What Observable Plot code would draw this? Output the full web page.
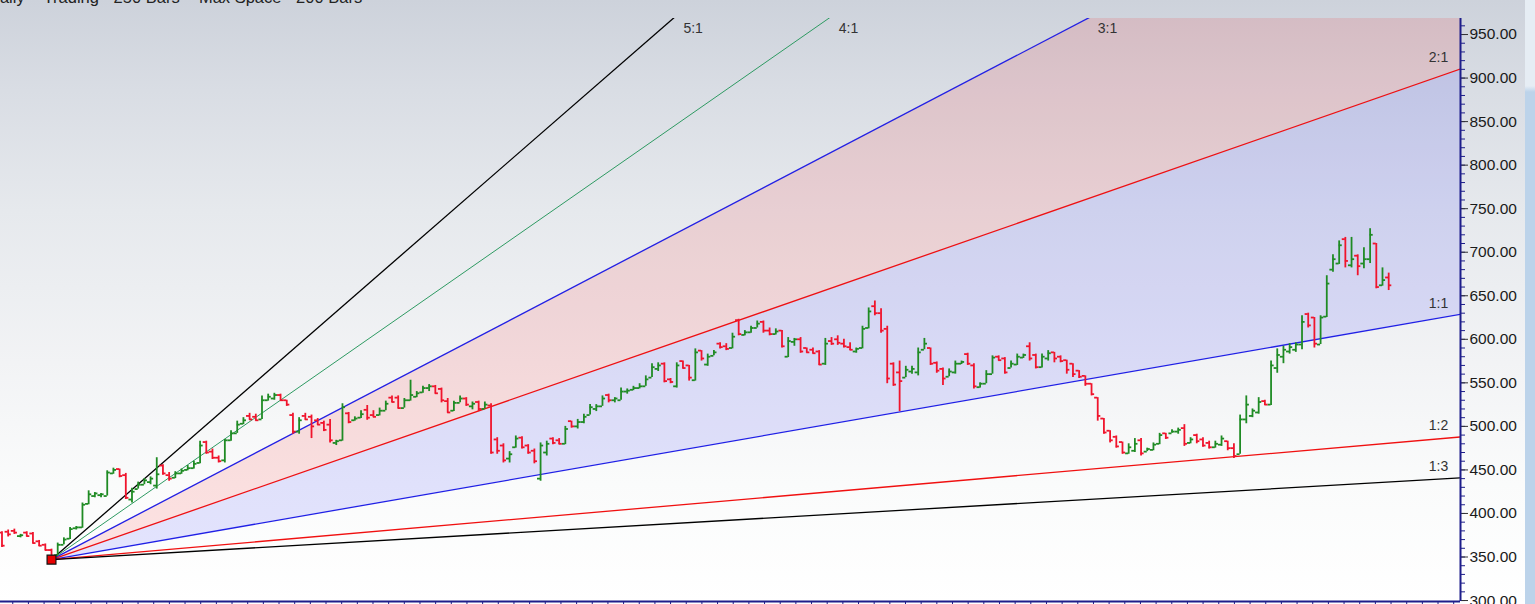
<!DOCTYPE html>
<html><head><meta charset="utf-8">
<script src="https://cdn.jsdelivr.net/npm/d3@7"></script>
<script src="https://cdn.jsdelivr.net/npm/@observablehq/plot@0.6"></script>
<style>
html,body{margin:0;padding:0;overflow:hidden;background:#fff;}
#wrap{position:relative;width:1535px;height:604px;overflow:hidden;background:linear-gradient(to bottom,#cdd2db 0%,#d9dde4 15%,#e6e9ed 35%,#f2f3f5 60%,#fafbfb 80%,#ffffff 100%);}
#chart{position:absolute;left:0;top:0;}
#title{position:absolute;left:-12px;top:-12px;font:16.5px Arial,"Liberation Sans",sans-serif;line-height:18px;color:#222;white-space:pre;}
#strip{position:absolute;left:1525px;top:0;width:10px;height:604px;background:linear-gradient(to bottom,#e6edf4 0px,#e6edf4 86px,#bcd3ea 92px,#bcd3ea 100%);}
</style></head>
<body><div id="wrap"><div id="chart"></div><div id="title">Daily  - Trading - 250 Bars -  Max Space - 200 Bars</div><div id="strip"></div></div>
<script>
// OHLC bars, one per trading day: [open, high, low, close]
const ohlc = [
[378,379,361,363],[379,381,373,376],[380,382,376,378],[374,376,372,375],[378,379,373,374],
[377,378,365,366],[368,369,362,363],[364,365,357,358],[358,359,349,351],[352,366,351,364],
[364,372,364,370],[371,384,370,382],[383,385,381,384],[384,412,383,410],[411,426,410,422],
[420,424,418,423],[421,423,418,422],[420,449,420,447],[446,452,445,450],[451,451,441,443],
[444,446,416,418],[416,429,412,425],[428,436,428,433],[433,440,433,438],[436,442,433,440],
[432,464,428,445],[455,456,444,446],[444,447,437,440],[441,448,440,446],[446,451,445,449],
[450,455,449,452],[452,460,451,457],[458,483,457,478],[482,483,468,470],[471,474,462,464],
[464,466,458,460],[461,485,458,484],[484,495,483,492],[492,506,492,502],[503,510,502,507],
[512,515,507,508],[511,514,506,507],[508,535,508,530],[530,537,529,534],[532,538,530,536],
[536,537,529,530],[530,530,523,525],[513,515,491,494],[494,510,491,507],[512,515,507,508],
[511,513,486,500],[507,509,501,502],[504,506,494,496],[502,508,481,484],[481,484,478,483],
[484,526,483,522],[515,516,503,505],[507,511,506,509],[510,518,509,514],[519,524,507,510],
[513,518,510,511],[513,521,512,518],[518,529,518,526],[533,535,527,528],[533,535,520,521],
[521,532,521,530],[530,553,529,536],[534,540,533,538],[539,546,538,544],[544,548,540,546],
[546,547,537,538],[543,544,527,530],[529,532,515,516],[518,529,517,527],[527,535,527,532],
[532,533,523,525],[523,528,519,526],[528,529,517,520],[520,528,520,525],[524,526,468,470],
[485,487,468,472],[478,480,458,461],[463,471,458,468],[476,489,475,486],[487,488,474,476],
[478,479,468,470],[472,474,457,460],[440,481,437,478],[470,483,466,480],[486,487,479,481],
[484,486,479,480],[480,500,479,497],[506,506,498,500],[500,508,497,505],[505,514,503,511],
[513,525,513,522],[520,525,517,523],[523,535,523,532],[536,537,527,530],[530,533,527,532],
[530,544,530,540],[540,543,537,541],[542,546,541,544],[544,549,543,546],[546,558,546,554],
[556,572,556,568],[566,573,563,570],[572,573,550,552],[554,555,549,551],[546,573,544,570],
[575,575,566,567],[570,570,552,556],[553,589,552,585],[587,587,575,578],[571,583,569,580],
[581,587,581,585],[595,596,589,591],[592,595,587,589],[590,607,589,603],[622,623,604,606],
[605,610,604,608],[608,615,607,613],[613,621,613,618],[620,621,607,610],[610,613,604,606],
[606,612,605,609],[610,610,590,592],[580,602,579,598],[597,601,592,600],[600,602,584,586],
[590,590,584,585],[588,590,583,584],[586,587,570,571],[572,601,570,595],[598,602,593,595],
[600,604,593,596],[595,600,590,592],[591,596,587,588],[586,590,584,589],[590,615,589,612],
[613,636,612,632],[638,644,627,630],[630,635,607,610],[612,615,549,555],[572,573,546,548],
[562,575,517,552],[556,569,556,565],[563,569,560,566],[562,590,558,585],[588,601,588,595],
[590,590,570,572],[573,574,561,564],[566,567,547,555],[557,566,557,563],[562,575,560,572],
[572,575,571,574],[583,584,570,572],[570,572,543,546],[545,550,544,549],[549,564,549,560],
[560,581,560,579],[580,581,575,576],[578,579,560,562],[567,575,567,572],[571,583,570,580],
[579,583,578,582],[592,596,575,578],[582,583,566,568],[568,583,567,580],[578,587,575,584],
[585,585,573,578],[580,581,573,575],[576,576,560,565],[572,572,556,560],[564,564,555,557],
[558,558,546,549],[549,549,535,537],[533,533,506,512],[509,509,491,493],[495,495,481,484],
[488,489,475,477],[482,482,468,470],[469,480,468,476],[472,486,470,480],[484,486,466,469],
[471,475,471,474],[473,481,472,479],[480,492,479,490],[492,492,485,487],[492,496,492,494],
[494,498,491,496],[498,502,477,480],[481,487,480,485],[490,491,480,483],[485,487,476,478],
[481,483,474,476],[476,483,475,480],[479,489,477,486],[483,483,472,475],[475,480,463,466],
[468,513,468,508],[508,535,503,525],[512,520,510,518],[516,533,514,528],[529,530,524,525],
[525,575,524,570],[567,589,561,582],[580,592,572,588],[586,595,583,591],[588,596,585,594],
[594,627,588,620],[629,630,613,616],[625,625,590,595],[594,627,594,625],[626,673,625,664],
[680,697,677,692],[687,713,686,708],[715,717,682,690],[685,717,682,692],[696,697,673,684],
[687,705,681,692],[692,727,687,720],[710,710,658,660],[662,682,661,668],[671,676,656,662]
];

// Gann fan: pivot bar / price and angle set
const pivotBar = 8;
const pivotPrice = 347;
const priceUnitPerBar = 1.2377;
const fanLabels = ["5:1", "4:1", "3:1", "2:1", "1:1", "1:2", "1:3"];
const fanRatios = [5, 4, 3, 2, 1, 1/2, 1/3];
const fanColors = ["#000000", "#2e9a62", "#2020e6", "#f01010", "#2020e6", "#f01010", "#000000"];

// axes
const xDomain = [-0.24, 235.6];
const yDomain = [298.9, 968.4];
const yTicks = [300, 350, 400, 450, 500, 550, 600, 650, 700, 750, 800, 850, 900, 950];
const yMinorTicks = d3.range(300, 961, 10);
const xTicks = d3.range(1.74, 235, 2.53);

const bars = ohlc.map((d, i) => ({i, o: d[0], h: d[1], l: d[2], c: d[3], col: d[3] >= d[0] ? "#1f8b24" : "#f0142c"}));
const lineAt = (r, x) => pivotPrice + r * priceUnitPerBar * (x - pivotBar);
const fan = fanLabels.map((label, k) => {
  const r = fanRatios[k];
  const xe = xDomain[1];
  const ye = lineAt(r, xe);
  const top = ye > yDomain[1];
  return {label, r, color: fanColors[k], x1: pivotBar, y1: pivotPrice, x2: xe, y2: ye,
    lx: top ? pivotBar + (yDomain[1] - pivotPrice) / (r * priceUnitPerBar) : xe,
    ly: top ? yDomain[1] : ye, top};
});
const xe = xDomain[1];
const pinkZone = [{x: pivotBar, a: pivotPrice, b: pivotPrice}, {x: xe, a: lineAt(2, xe), b: lineAt(3, xe)}];
const blueZone = [{x: pivotBar, a: pivotPrice, b: pivotPrice}, {x: xe, a: lineAt(1, xe), b: lineAt(2, xe)}];
const navy = "#1d1d8a";

const chart = Plot.plot({
  width: 1525, height: 604,
  marginLeft: 0, marginRight: 65, marginTop: 18, marginBottom: 3,
  style: {background: "transparent", fontFamily: "Arial, 'Liberation Sans', sans-serif", color: "#1a1a1a", overflow: "visible"},
  x: {domain: xDomain},
  y: {domain: yDomain},
  marks: [
    Plot.areaY(pinkZone, {x: "x", y1: "a", y2: "b", fill: "#ff0000", fillOpacity: 0.11, clip: true}),
    Plot.areaY(blueZone, {x: "x", y1: "a", y2: "b", fill: "#0000ff", fillOpacity: 0.1, clip: true}),
    Plot.link(fan, {x1: "x1", y1: "y1", x2: "x2", y2: "y2", stroke: "color", strokeWidth: d => d.r === 4 ? 1 : 1.3, clip: true}),
    Plot.text(fan.filter(d => d.top), {x: "lx", y: "ly", text: "label", dx: 20, dy: 10, fontSize: 14, fill: "#333"}),
    Plot.text(fan.filter(d => !d.top), {x: "lx", y: "ly", text: "label", dx: -22, dy: -11, fontSize: 14, fill: "#333"}),
    Plot.ruleX(bars, {x: "i", y1: "l", y2: "h", stroke: "col", strokeWidth: 1.8}),
    Plot.ruleY(bars, {y: "o", x1: d => d.i - 0.5, x2: "i", stroke: "col", strokeWidth: 1.8}),
    Plot.ruleY(bars, {y: "c", x1: "i", x2: d => d.i + 0.5, stroke: "col", strokeWidth: 1.8}),
    Plot.dot([{x: pivotBar, y: pivotPrice}], {x: "x", y: "y", symbol: "square", r: 5, fill: "#e80000", stroke: "#111", strokeWidth: 1.2}),
    Plot.axisY({anchor: "right", ticks: yMinorTicks, tickSize: 4, tickFormat: () => "", stroke: navy, label: null}),
    Plot.axisY({anchor: "right", ticks: yTicks, tickSize: 7, tickPadding: 2, tickFormat: d => d.toFixed(2), fontSize: 15.5, stroke: "#333", label: null}),
    Plot.axisX({anchor: "bottom", ticks: xTicks, tickSize: 4, tickFormat: () => "", stroke: navy, label: null}),
    Plot.ruleX([xDomain[1]], {stroke: navy, strokeWidth: 2}),
    Plot.ruleY([yDomain[0]], {stroke: navy, strokeWidth: 2})
  ]
});
document.getElementById("chart").appendChild(chart);
</script>
</body></html>
